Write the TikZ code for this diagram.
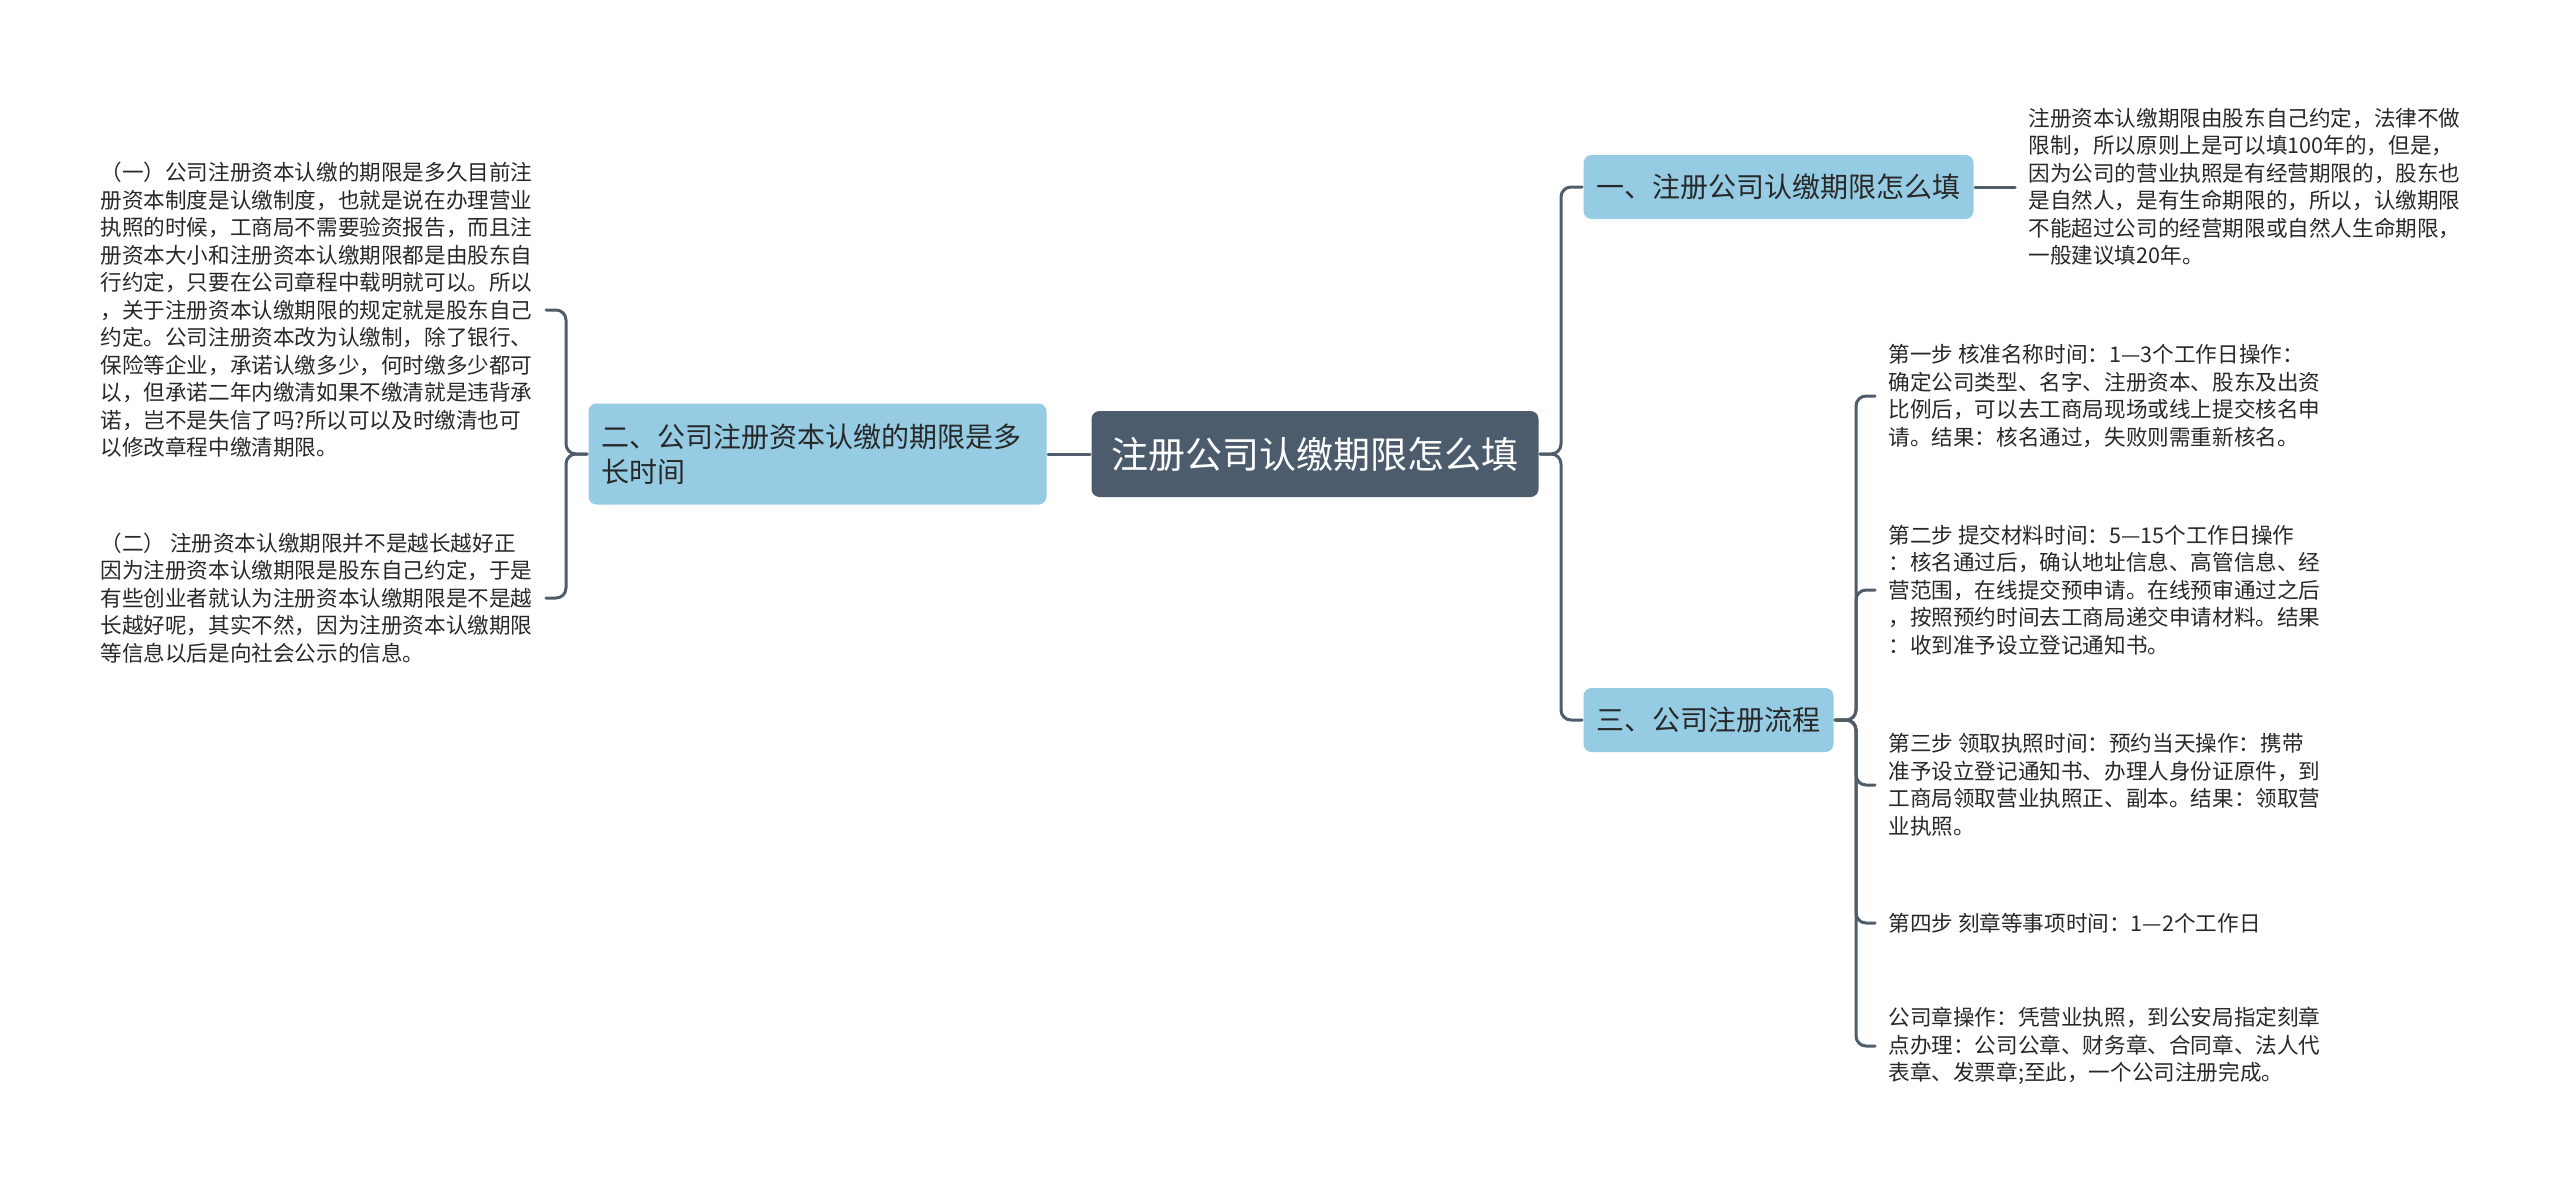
\documentclass[tikz,border=0pt]{standalone}
\usepackage{fontspec}
\setmainfont{Noto Sans CJK SC}
\usepackage{tikz}
\usetikzlibrary{positioning}

\definecolor{rootfill}{RGB}{76,92,108}
\definecolor{topicfill}{RGB}{149,204,228}
\definecolor{linkcol}{RGB}{79,93,107}
\definecolor{inkcol}{RGB}{40,40,40}

\begin{document}
\begin{tikzpicture}[x=1pt,y=1pt,line width=3pt,line cap=round]
  \tikzstyle{rootbox}=[fill=rootfill,text=white,rounded corners=8pt,inner xsep=20pt,minimum height=86pt,font=\fontsize{37}{45}\selectfont]
  \tikzstyle{topicbox}=[fill=topicfill,text=inkcol,rounded corners=8pt,inner xsep=13pt,minimum height=64pt,font=\fontsize{28}{35}\selectfont]
  \tikzstyle{leafnote}=[text=inkcol,align=left,inner xsep=12pt,inner ysep=0pt,font=\fontsize{21.6}{27.5}\selectfont]
  \tikzstyle{forkright}=[draw=linkcol,rounded corners=10pt,to path={(\tikztostart) -- ++(21pt,0) |- (\tikztotarget)}]
  \tikzstyle{forkleft}=[draw=linkcol,rounded corners=10pt,to path={(\tikztostart) -- ++(-21pt,0) |- (\tikztotarget)}]

  \useasboundingbox (0,0) rectangle (2560,-1191);

  \node[rootbox]                                     (A) at (1315,-454) {注册公司认缴期限怎么填};
  \node[topicbox, left=42pt of A, align=left, text width=432pt, minimum height=101pt] (B) {二、公司注册资本认缴的期限是多\\长时间};
  \node[topicbox, right=42pt of A, yshift=267pt]     (C) {一、注册公司认缴期限怎么填};
  \node[topicbox, right=42pt of A, yshift=-266pt]    (D) {三、公司注册流程};

  \node[leafnote, right=40pt of C]                   (E) {注册资本认缴期限由股东自己约定，法律不做\\限制，所以原则上是可以填100年的，但是，\\因为公司的营业执照是有经营期限的，股东也\\是自然人，是有生命期限的，所以，认缴期限\\不能超过公司的经营期限或自然人生命期限，\\一般建议填20年。};
  \node[leafnote, left=41pt of B, yshift=144pt]      (F) {（一）公司注册资本认缴的期限是多久目前注\\册资本制度是认缴制度，也就是说在办理营业\\执照的时候，工商局不需要验资报告，而且注\\册资本大小和注册资本认缴期限都是由股东自\\行约定，只要在公司章程中载明就可以。所以\\，关于注册资本认缴期限的规定就是股东自己\\约定。公司注册资本改为认缴制，除了银行、\\保险等企业，承诺认缴多少，何时缴多少都可\\以，但承诺二年内缴清如果不缴清就是违背承\\诺，岂不是失信了吗?所以可以及时缴清也可\\以修改章程中缴清期限。};
  \node[leafnote, left=41pt of B, yshift=-144pt]     (G) {（二） 注册资本认缴期限并不是越长越好正\\因为注册资本认缴期限是股东自己约定，于是\\有些创业者就认为注册资本认缴期限是不是越\\长越好呢，其实不然，因为注册资本认缴期限\\等信息以后是向社会公示的信息。};
  \node[leafnote, right=40pt of D, yshift=324pt]     (H) {第一步 核准名称时间：1—3个工作日操作：\\确定公司类型、名字、注册资本、股东及出资\\比例后，可以去工商局现场或线上提交核名申\\请。结果：核名通过，失败则需重新核名。};
  \node[leafnote, right=40pt of D, yshift=130pt]     (I) {第二步 提交材料时间：5—15个工作日操作\\：核名通过后，确认地址信息、高管信息、经\\营范围，在线提交预申请。在线预审通过之后\\，按照预约时间去工商局递交申请材料。结果\\：收到准予设立登记通知书。};
  \node[leafnote, right=40pt of D, yshift=-65pt]     (J) {第三步 领取执照时间：预约当天操作：携带\\准予设立登记通知书、办理人身份证原件，到\\工商局领取营业执照正、副本。结果：领取营\\业执照。};
  \node[leafnote, right=40pt of D, yshift=-203pt]    (K) {第四步 刻章等事项时间：1—2个工作日};
  \node[leafnote, right=40pt of D, yshift=-326pt]    (L) {公司章操作：凭营业执照，到公安局指定刻章\\点办理：公司公章、财务章、合同章、法人代\\表章、发票章;至此，一个公司注册完成。};

  \path (A.west) edge[draw=linkcol]  (B.east)
        (A.east) edge[forkright]     (C.west)
        (A.east) edge[forkright]     (D.west)
        (C.east) edge[draw=linkcol]  (E.west)
        (B.west) edge[forkleft]      (F.east)
        (B.west) edge[forkleft]      (G.east)
        (D.east) edge[forkright]     (H.west)
        (D.east) edge[forkright]     (I.west)
        (D.east) edge[forkright]     (J.west)
        (D.east) edge[forkright]     (K.west)
        (D.east) edge[forkright]     (L.west);

\end{tikzpicture}
\end{document}
